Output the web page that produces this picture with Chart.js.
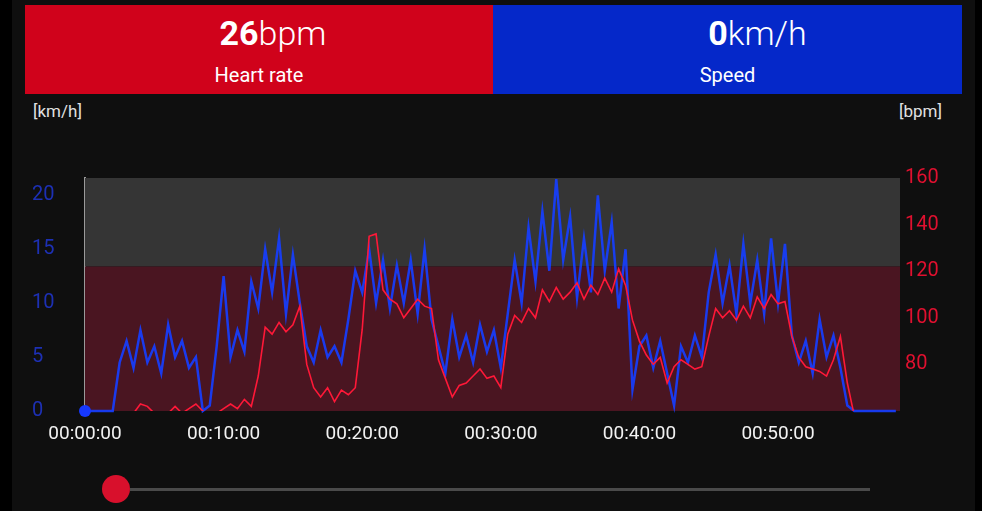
<!DOCTYPE html>
<html>
<head>
<meta charset="utf-8">
<script src="https://cdn.jsdelivr.net/npm/chart.js@4"></script>
<style>
  html, body { margin: 0; padding: 0; background: #000; width: 982px; height: 511px; overflow: hidden; font-family: Roboto, sans-serif; }
  #panel { position: absolute; left: 12px; top: 0; width: 963px; height: 511px; background: #0f0f0f; }
  .box { position: absolute; top: 5px; height: 89px; color: #fff; text-align: center; }
  .big { position: absolute; left: 0; right: 0; top: 8px; font-size: 34px; line-height: 40px; }
  .big b { font-weight: 700; }
  .big span { font-weight: 300; }
  .small { position: absolute; left: 0; right: 0; top: 57px; font-size: 20px; line-height: 26px; }
  #hrBox { left: 13px; width: 468px; background: #d0021b; }
  #spBox { left: 481px; width: 469px; background: #0528c9; }
  #hrBox .big { padding-left: 28px; }
  #spBox .big { padding-left: 60px; }
  .unit { position: absolute; top: 100px; font-size: 17px; line-height: 22px; color: #e0e0e0; }
  #chartWrap { position: absolute; left: 0; top: 94px; width: 963px; height: 357px; }
  #track { position: absolute; left: 118px; top: 488px; width: 740px; height: 3px; background: #4a4a4a; }
  #knob { position: absolute; left: 90px; top: 475px; width: 28px; height: 28px; border-radius: 50%; background: #d8102c; }
</style>
</head>
<body>
<div id="panel">
  <div class="box" id="hrBox"><div class="big"><b>26</b><span>bpm</span></div><div class="small">Heart rate</div></div>
  <div class="box" id="spBox"><div class="big"><b>0</b><span>km/h</span></div><div class="small">Speed</div></div>
  <div class="unit" style="left:21px">[km/h]</div>
  <div class="unit" style="right:33px">[bpm]</div>
  <div id="chartWrap"><canvas id="chart" width="963" height="357"></canvas></div>
  <div id="track"></div>
  <div id="knob"></div>
</div>
<script>
// one sample every 30 s
const stepSeconds = 30;
const heartRate = [50, 52, 54, 56, 57, 58, 58, 59, 63, 62, 59, 58, 59, 62, 59, 61, 63, 60, 58, 59,
  61, 63, 61, 65, 62, 75, 96, 93, 98, 94, 97, 105, 80, 70, 66, 70, 64, 69, 67, 70,
  95, 135, 136, 112, 108, 106, 100, 104, 108, 105, 104, 82, 74, 66, 71, 72, 75, 78, 74, 75,
  70, 93, 101, 98, 104, 100, 112, 107, 113, 108, 111, 115, 108, 114, 110, 117, 111, 121, 114, 99,
  90, 84, 80, 83, 72, 79, 82, 80, 78, 79, 92, 104, 100, 103, 99, 105, 100, 109, 104, 110,
  106, 107, 92, 83, 79, 78, 77, 75, 82, 92, 72, 58, 45, 35, 30, 28, 27, 26];
const speed = [0, 0, 0, 0, 0, 4.5, 6.5, 4, 7.5, 4.5, 6, 3.5, 8, 5, 6.5, 4, 5, 0, 0.5, 6,
  12.5, 5, 7.5, 5.5, 12, 9.5, 15, 11, 16, 9, 14.5, 10, 6, 4.5, 7.5, 5, 6, 4.5, 8.5, 13,
  11, 15, 10, 14, 9.5, 13.5, 10, 14, 9, 15, 8.5, 6, 3.5, 8.5, 5, 7, 4.5, 8, 5.5, 7.5,
  4, 9, 14, 10, 17, 12, 18.5, 13, 21.5, 14, 18, 10.5, 16, 11, 20, 13, 17.5, 9.5, 15, 2,
  6, 7, 4, 6.5, 3.5, 0.5, 6, 4.5, 7, 5, 11, 14.5, 10, 13.5, 9, 15.5, 10, 14, 9, 16,
  10, 15.5, 7, 4.5, 6.5, 3.5, 8.5, 5, 7, 4, 0.5, 0, 0, 0, 0, 0, 0, 0];
const timeTicks = [0, 600, 1200, 1800, 2400, 3000];
const timeMax = 3528;
const hrZone = [60, 122, 160];

const fmtTime = (s) => {
  const h = Math.floor(s / 3600), m = Math.floor((s % 3600) / 60), sec = s % 60;
  return [h, m, sec].map((n) => String(n).padStart(2, "0")).join(":");
};

// zone bands behind the lines
const zoneBands = {
  id: "zoneBands",
  beforeDatasetsDraw(chart) {
    const { ctx, chartArea: a, scales } = chart;
    const yLow = scales.yHr.getPixelForValue(hrZone[0]);
    const yMid = scales.yHr.getPixelForValue(hrZone[1]);
    const yTop = scales.yHr.getPixelForValue(hrZone[2]);
    ctx.save();
    ctx.fillStyle = "#353535";
    ctx.fillRect(a.left, yTop, a.right - a.left, yMid - yTop);
    ctx.fillStyle = "#4a1521";
    ctx.fillRect(a.left, yMid, a.right - a.left, yLow - yMid);
    ctx.restore();
  }
};

const toPoints = (arr) => arr.map((v, i) => ({ x: i * stepSeconds, y: v }));

new Chart(document.getElementById("chart"), {
  type: "line",
  data: {
    datasets: [
      {
        label: "Heart rate",
        data: toPoints(heartRate),
        yAxisID: "yHr",
        borderColor: "#ff1838",
        borderWidth: 1.6,
        pointRadius: 0,
        tension: 0
      },
      {
        label: "Speed",
        data: toPoints(speed),
        yAxisID: "ySpeed",
        borderColor: "rgba(22,62,255,0.92)",
        borderWidth: 2.5,
        clip: 8,
        pointRadius: (c) => (c.dataIndex === 0 ? 6 : 0),
        pointBackgroundColor: "#1638ff",
        pointBorderWidth: 0,
        tension: 0
      }
    ]
  },
  options: {
    responsive: false,
    animation: false,
    layout: { padding: { top: 84, left: 20, right: 0, bottom: 0 } },
    plugins: { legend: { display: false }, tooltip: { enabled: false } },
    scales: {
      x: {
        type: "linear",
        min: 0,
        max: timeMax,
        afterBuildTicks: (s) => { s.ticks = timeTicks.map((v) => ({ value: v })); },
        afterFit: (s) => { s.height = 40; },
        grid: { display: false, drawTicks: false },
        border: { display: false },
        ticks: { color: "#f2f2f2", font: { family: "Roboto", size: 19 }, padding: 12, maxRotation: 0, callback: (v) => fmtTime(v) }
      },
      ySpeed: {
        position: "left",
        min: 0,
        max: 21.6,
        afterFit: (s) => { s.width = 53; },
        grid: { display: false, drawTicks: false },
        border: { display: true, color: "#9a9a9a", width: 2 },
        ticks: { stepSize: 5, includeBounds: false, crossAlign: "far", color: "#1d30b4", font: { family: "Roboto", size: 20 } }
      },
      yHr: {
        position: "right",
        min: 60,
        max: 160,
        afterFit: (s) => { s.width = 75; },
        grid: { display: false, drawTicks: false },
        border: { display: false },
        ticks: { stepSize: 20, padding: 5, color: "#e0102f", font: { family: "Roboto", size: 20 }, callback: (v) => (v === 60 ? null : v) }
      }
    }
  },
  plugins: [zoneBands]
});
</script>
</body>
</html>
